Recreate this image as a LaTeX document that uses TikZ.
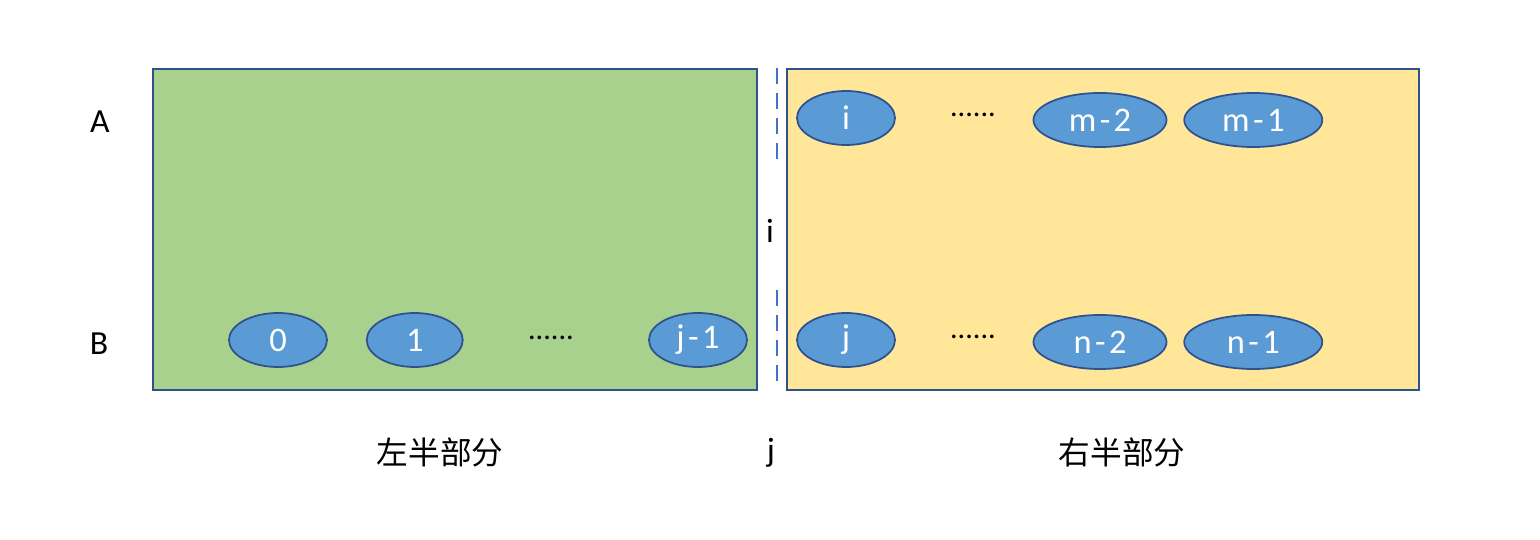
\documentclass[tikz,border=0pt]{standalone}
\usepackage{fontspec}
\setmainfont{Carlito}
\newfontfamily\cjkfont{Noto Sans CJK SC}
\usepackage{tikz}
\usetikzlibrary{positioning, shapes.geometric}

\definecolor{frameblue}{RGB}{47,82,143}
\definecolor{cutblue}{RGB}{68,114,196}
\definecolor{leftgreen}{RGB}{169,209,142}
\definecolor{rightyellow}{RGB}{255,230,153}
\definecolor{cellblue}{RGB}{91,155,213}

\begin{document}
\begin{tikzpicture}[
    half/.style={
        draw=frameblue,
        line width=0.6pt,
        minimum height=3.21cm,
        inner sep=0pt,
    },
    cell/.style={
        ellipse,
        fill=cellblue,
        draw=frameblue,
        line width=0.5pt,
        minimum height=0.54cm,
        inner sep=0pt,
        text=white,
        font=\fontsize{9.8}{11}\selectfont,
    },
    dots/.style={
        font=\fontsize{8.6}{10}\selectfont,
        inner sep=0pt,
    },
    side label/.style={
        font=\fontsize{9.6}{11}\selectfont,
    },
    part label/.style={
        font=\cjkfont\fontsize{9.0}{10}\selectfont,
    },
]
\useasboundingbox (0,0) rectangle (15.4,-5.4);

% --- Left half (green) ---
\node[half, fill=leftgreen, minimum width=6.04cm] (left) at (4.55,-2.295) {};

% --- Right half (yellow) ---
\node[half, fill=rightyellow, minimum width=6.32cm] (right) at (11.03,-2.295) {};

% --- Row labels ---
\node[side label] (rowA) at (1.00,-1.22) {A};
\node[side label] (rowB) at (0.99,-3.44) {B};

% --- Row B, left part ---
\node[cell, minimum width=0.98cm] (b0) at (2.78,-3.40) {0};
\node[cell, minimum width=0.96cm, right=0.38cm of b0] (b1) {1};
\node[dots] (bdotsL) at (5.51,-3.38) {......};
\node[cell, minimum width=0.98cm] (bj1) at (6.98,-3.40) {j\kern.1em-\kern.1em1};

% --- Row A, right part ---
\node[cell, minimum width=0.98cm] (ai) at (8.46,-1.18) {i};
\node[dots] (adots) at (9.73,-1.15) {......};
\node[cell, minimum width=1.33cm] (am2) at (11.00,-1.20) {m\kern.1em-\kern.1em2};
\node[cell, minimum width=1.38cm, right=0.16cm of am2] (am1) {m\kern.1em-\kern.1em1};

% --- Row B, right part ---
\node[cell, minimum width=0.98cm] (bj) at (8.46,-3.40) {j};
\node[dots] (bdotsR) at (9.73,-3.37) {......};
\node[cell, minimum width=1.33cm] (bn2) at (11.00,-3.42) {n\kern.1em-\kern.1em2};
\node[cell, minimum width=1.38cm, right=0.16cm of bn2] (bn1) {n\kern.1em-\kern.1em1};

% --- Cut between the halves ---
\coordinate (cutA top) at (7.77,-0.68);
\coordinate (cutA bot) at (7.77,-1.66);
\coordinate (cutB top) at (7.77,-2.90);
\coordinate (cutB bot) at (7.77,-3.88);
\draw[cutblue, line width=0.6pt, dash pattern=on 0.16cm off 0.09cm] (cutA top) -- (cutA bot);
\draw[cutblue, line width=0.6pt, dash pattern=on 0.16cm off 0.09cm] (cutB top) -- (cutB bot);
\node[side label] (cuti) at (7.70,-2.31) {i};
\node[side label] (cutj) at (7.71,-4.53) {j};

% --- Part names ---
\node[part label] (leftname) at (4.40,-4.52) {左半部分};
\node[part label] (rightname) at (11.22,-4.52) {右半部分};

\end{tikzpicture}
\end{document}
